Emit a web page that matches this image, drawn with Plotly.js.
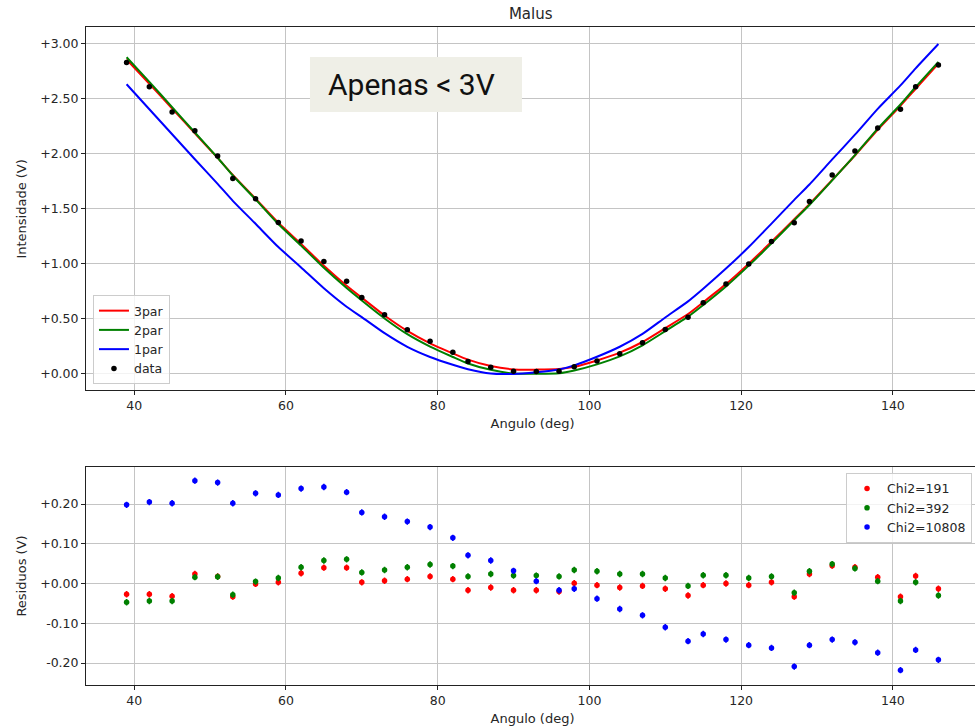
<!DOCTYPE html>
<html>
<head>
<meta charset="utf-8">
<script src="https://cdn.plot.ly/plotly-3.0.1.min.js"></script>
<style>
html, body { margin:0; padding:0; overflow:hidden; background:#fff; }
#chart { width:980px; height:728px; }
</style>
</head>
<body>
<div id="chart"></div>
<script>
// ---- data ----
const angles = [39,42,45,48,51,53,56,59,62,65,68,70,73,76,79,82,84,87,90,93,96,98,101,104,107,110,113,115,118,121,124,127,129,132,135,138,141,143,146];

const intensity = [2.830,2.610,2.380,2.210,1.981,1.775,1.591,1.376,1.207,1.022,0.841,0.695,0.538,0.402,0.296,0.198,0.113,0.061,0.024,0.022,0.024,0.065,0.118,0.183,0.284,0.403,0.514,0.647,0.816,0.998,1.204,1.373,1.566,1.808,2.026,2.235,2.404,2.610,2.806];

const fit3par = [2.857,2.637,2.412,2.186,1.963,1.808,1.592,1.373,1.181,0.982,0.801,0.692,0.531,0.391,0.278,0.187,0.130,0.071,0.041,0.039,0.044,0.064,0.122,0.193,0.290,0.416,0.544,0.651,0.816,1.002,1.201,1.406,1.542,1.763,1.985,2.219,2.437,2.591,2.819];

const fit2par = [2.877,2.654,2.424,2.194,1.964,1.803,1.586,1.362,1.166,0.964,0.780,0.667,0.504,0.361,0.248,0.154,0.095,0.037,0.004,0.002,0.006,0.031,0.087,0.159,0.260,0.389,0.520,0.626,0.795,0.984,1.186,1.396,1.535,1.759,1.988,2.229,2.448,2.607,2.836];

const fit1par = [2.632,2.405,2.178,1.951,1.727,1.573,1.364,1.153,0.968,0.779,0.611,0.516,0.370,0.246,0.154,0.083,0.042,0.003,0.000,0.016,0.041,0.078,0.156,0.247,0.364,0.513,0.659,0.774,0.957,1.153,1.366,1.582,1.721,1.949,2.174,2.409,2.622,2.777,2.998];

const res3par = [-0.027,-0.027,-0.032,0.024,0.018,-0.033,-0.001,0.003,0.026,0.040,0.040,0.003,0.007,0.011,0.018,0.011,-0.017,-0.010,-0.017,-0.017,-0.020,0.001,-0.004,-0.010,-0.006,-0.013,-0.030,-0.004,0.000,-0.004,0.003,-0.033,0.024,0.045,0.041,0.016,-0.033,0.019,-0.013];

const res2par = [-0.047,-0.044,-0.044,0.016,0.017,-0.028,0.005,0.014,0.041,0.058,0.061,0.028,0.034,0.041,0.048,0.044,0.018,0.024,0.020,0.020,0.018,0.034,0.031,0.024,0.024,0.014,-0.006,0.021,0.021,0.014,0.018,-0.023,0.031,0.049,0.038,0.006,-0.044,0.003,-0.030];

const res1par = [0.198,0.205,0.202,0.259,0.254,0.202,0.227,0.223,0.239,0.243,0.230,0.179,0.168,0.156,0.142,0.115,0.071,0.058,0.032,0.006,-0.017,-0.013,-0.038,-0.064,-0.080,-0.110,-0.145,-0.127,-0.141,-0.155,-0.162,-0.209,-0.155,-0.141,-0.148,-0.174,-0.218,-0.167,-0.192];

const errV = angles.map(() => 0.008);

// tick labels
const topTickVals = [0, 0.5, 1, 1.5, 2, 2.5, 3];
const topTickText = ['+0.00', '+0.50', '+1.00', '+1.50', '+2.00', '+2.50', '+3.00'];
const resTickVals = [-0.2, -0.1, 0, 0.1, 0.2];
const resTickText = ['-0.20', '-0.10', '+0.00', '+0.10', '+0.20'];

const fitNames = ['3par', '2par', '1par'];
const resNames = ['Chi2=191', 'Chi2=392', 'Chi2=10808'];
const colors = ['#ff0000', '#008000', '#0000ff'];

// ---- traces ----
const fits = [fit3par, fit2par, fit1par];
const resids = [res3par, res2par, res1par];
const traces = [];
fits.forEach((f, i) => {
  traces.push({
    x: angles, y: f, type: 'scatter', mode: 'lines', name: fitNames[i],
    line: {color: colors[i], width: 2, shape: 'spline', smoothing: 0.6},
    xaxis: 'x', yaxis: 'y', legend: 'legend'
  });
});
traces.push({
  x: angles, y: intensity, type: 'scatter', mode: 'markers', name: 'data',
  marker: {color: '#000', size: 5.5},
  error_y: {type: 'data', array: errV, visible: true, color: '#000', thickness: 1.5, width: 0},
  xaxis: 'x', yaxis: 'y', legend: 'legend'
});
resids.forEach((r, i) => {
  traces.push({
    x: angles, y: r, type: 'scatter', mode: 'markers', name: resNames[i],
    marker: {color: colors[i], size: 5.5},
    error_y: {type: 'data', array: errV, visible: true, color: colors[i], thickness: 1.5, width: 0},
    xaxis: 'x2', yaxis: 'y2', legend: 'legend2'
  });
});

// ---- layout ----
const axisStyle = {
  ticks: 'outside', ticklen: 4, tickwidth: 1, tickcolor: '#222',
  showline: true, mirror: true, linecolor: '#222', linewidth: 1,
  showgrid: true, gridcolor: '#c4c4c4', gridwidth: 1, zeroline: false,
  tickfont: {size: 12.5, color: '#262626'}
};
const xTitle = 'Angulo (deg)';

const layout = {
  width: 980, height: 728,
  margin: {l: 86, r: 1, t: 0, b: 0},
  paper_bgcolor: '#ffffff', plot_bgcolor: '#ffffff',
  font: {family: 'DejaVu Sans', size: 12.5, color: '#262626'},
  title: {text: 'Malus', xref: 'paper', x: 0.498, xanchor: 'center',
          yref: 'container', y: 1 - 13.5 / 728, yanchor: 'middle',
          font: {size: 15, color: '#262626'}},
  xaxis: Object.assign({}, axisStyle, {
    domain: [0, 1], range: [33.65, 151.35], anchor: 'y', tick0: 0, dtick: 20,
    title: {text: xTitle, standoff: 6, font: {size: 13}}
  }),
  yaxis: Object.assign({}, axisStyle, {
    domain: [0.4637, 0.9624], range: [-0.15, 3.149], anchor: 'x',
    tickmode: 'array', tickvals: topTickVals, ticktext: topTickText,
    title: {text: 'Intensidade (V)', standoff: 10, font: {size: 13}}
  }),
  xaxis2: Object.assign({}, axisStyle, {
    domain: [0, 1], range: [33.65, 151.35], anchor: 'y2', tick0: 0, dtick: 20,
    title: {text: xTitle, standoff: 6, font: {size: 13}}
  }),
  yaxis2: Object.assign({}, axisStyle, {
    domain: [0.0587, 0.3589], range: [-0.256, 0.294], anchor: 'x2',
    tickmode: 'array', tickvals: resTickVals, ticktext: resTickText,
    title: {text: 'Residuos (V)', standoff: 10, font: {size: 13}}
  }),
  legend: {
    x: 0.0078, y: 0.4725, xanchor: 'left', yanchor: 'bottom',
    bgcolor: 'rgba(255,255,255,0.8)', bordercolor: '#cccccc', borderwidth: 1,
    font: {size: 12.5, color: '#262626'}, tracegroupgap: 0
  },
  legend2: {
    x: 0.9922, y: 0.3503, xanchor: 'right', yanchor: 'top',
    bgcolor: 'rgba(255,255,255,0.8)', bordercolor: '#cccccc', borderwidth: 1,
    font: {size: 12.5, color: '#262626'}, tracegroupgap: 0
  },
  shapes: [{
    type: 'rect', xref: 'paper', yref: 'paper',
    x0: 0.2508, x1: 0.4882, y0: 0.8462, y1: 0.9217,
    fillcolor: '#efefe7', line: {width: 0}, layer: 'above'
  }],
  annotations: [{
    text: 'Apenas &lt; 3V', xref: 'paper', yref: 'paper',
    x: 0.365, y: 0.884, xanchor: 'center', yanchor: 'middle', showarrow: false,
    font: {family: 'Roboto', size: 30, color: '#111111'}
  }]
};

Plotly.newPlot('chart', traces, layout, {displayModeBar: false, staticPlot: true});
</script>
</body>
</html>
